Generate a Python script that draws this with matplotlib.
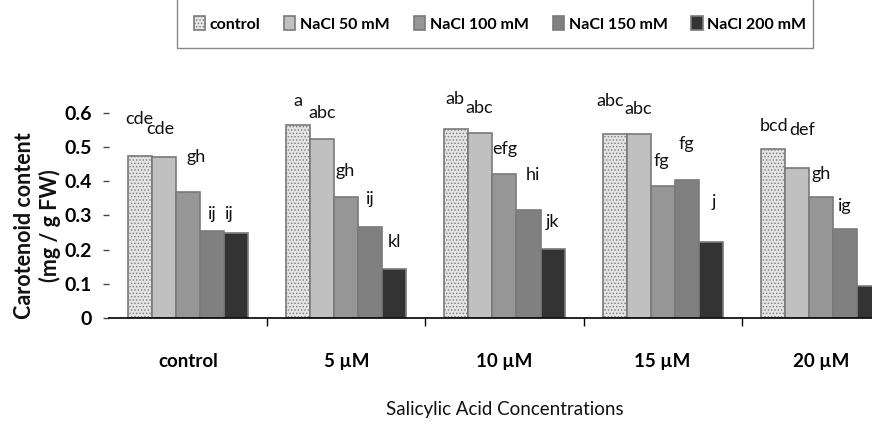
import matplotlib
matplotlib.use("Agg")
import matplotlib.pyplot as plt
from matplotlib.patches import Rectangle
import numpy as np

plt.rcParams['font.family'] = ['Lato', 'DejaVu Sans']
plt.rcParams['hatch.linewidth'] = 0.6

categories = ['control', '5 µM', '10 µM', '15 µM', '20 µM']
series_names = ['control', 'NaCl 50 mM', 'NaCl 100 mM', 'NaCl 150 mM', 'NaCl 200 mM']
values = {
    'control':     [0.474, 0.566, 0.552, 0.538, 0.494],
    'NaCl 50 mM':  [0.470, 0.525, 0.542, 0.538, 0.440],
    'NaCl 100 mM': [0.368, 0.353, 0.420, 0.386, 0.353],
    'NaCl 150 mM': [0.255, 0.267, 0.316, 0.404, 0.260],
    'NaCl 200 mM': [0.248, 0.144, 0.201, 0.223, 0.094],
}
letters = {
    'control':     ['cde', 'a', 'ab', 'abc', 'bcd'],
    'NaCl 50 mM':  ['cde', 'abc', 'abc', 'abc', 'def'],
    'NaCl 100 mM': ['gh', 'gh', 'efg', 'fg', 'gh'],
    'NaCl 150 mM': ['ij', 'ij', 'hi', 'fg', 'ig'],
    'NaCl 200 mM': ['ij', 'kl', 'jk', 'j', ''],
}
# label offsets (pixels) relative to bar top centre: (dx, dy)
label_offsets = {
    'control':     [(-1, 36), (0, 23), (-1, 29), (-4, 32), (1, 22)],
    'NaCl 50 mM':  [(-4, 27), (0, 25), (-1, 24), (0, 24), (5, 37)],
    'NaCl 100 mM': [(8, 34), (-1, 25), (0, 24), (-1, 24), (0, 22)],
    'NaCl 150 mM': [(0, 16), (0, 27), (4, 34), (0, 35), (0, 22)],
    'NaCl 200 mM': [(-7, 18), (0, 26), (0, 26), (3, 39), (0, 26)],
}
yticks = [0, 0.1, 0.2, 0.3, 0.4, 0.5, 0.6]
ytick_labels = ['0', '0.1', '0.2', '0.3', '0.4', '0.5', '0.6']

colors = ['#e4e4e4', '#c0c0c0', '#969696', '#808080', '#333333']
hatches = ['.....', None, None, None, None]
edge = '#7a7a7a'

fig = plt.figure(figsize=(8.72, 4.28), dpi=100)
ax = fig.add_axes([0.125, 0.257, 0.907, 0.479])

x = np.arange(len(categories))
w = 0.152
handles = []
for i, name in enumerate(series_names):
    pos = x + (i - 2) * w
    bars = ax.bar(pos, values[name], width=w, color=colors[i], edgecolor=edge,
                  linewidth=1.2, hatch=hatches[i], label=name, zorder=2)
    handles.append(bars)
    for j, b in enumerate(bars):
        lab = letters[name][j]
        if not lab:
            continue
        dx, dy = label_offsets[name][j]
        ax.annotate(lab, (b.get_x() + b.get_width() / 2, b.get_height()),
                    xytext=(dx, dy + 1), textcoords='offset pixels',
                    ha='center', va='center', fontsize=13, color='#111111',
                    annotation_clip=False)

ax.set_xlim(-0.5, 4.5)
ax.set_ylim(0, 0.6)
ax.set_yticks(yticks)
ax.set_yticklabels(ytick_labels, fontsize=14, fontweight='bold')
ax.set_xticks(x)
ax.set_xticklabels(categories, fontsize=13.5, fontweight='bold')
ax.set_xticks(np.arange(0.5, 4.5, 1.0), minor=True)
ax.tick_params(axis='x', which='major', length=0, pad=25)
ax.tick_params(axis='x', which='minor', length=6, width=1, direction='out')
ax.tick_params(axis='y', length=4, width=1, direction='out', pad=8, color='#444444')

for s in ['top', 'right', 'left']:
    ax.spines[s].set_visible(False)
ax.spines['bottom'].set_linewidth(1.2)

fig.text(0.028, 0.474, 'Carotenoid content', rotation=90, ha='center', va='center',
         fontsize=15.5, fontweight='bold', color='#111111')
fig.text(0.057, 0.474, '(mg / g FW)', rotation=90, ha='center', va='center',
         fontsize=15.5, fontweight='bold', color='#111111')
fig.text(505 / 872, 1 - 410 / 428, 'Salicylic Acid Concentrations', ha='center',
         va='center', fontsize=13.5, color='#111111')

leg = fig.legend(handles=handles, labels=series_names, loc='center',
                 bbox_to_anchor=(500 / 872, 1 - 24 / 428), ncol=5,
                 prop={'weight': 'bold', 'size': 11.5}, frameon=False,
                 handlelength=0.7, handleheight=0.9, handletextpad=0.3,
                 columnspacing=1.5, borderaxespad=0)
fig.patches.append(Rectangle((177 / 872, 1 - 48 / 428), (813 - 177) / 872, 0.2,
                             transform=fig.transFigure, fill=False,
                             edgecolor='#888888', linewidth=1.0))

fig.savefig('out.png', dpi=100)
